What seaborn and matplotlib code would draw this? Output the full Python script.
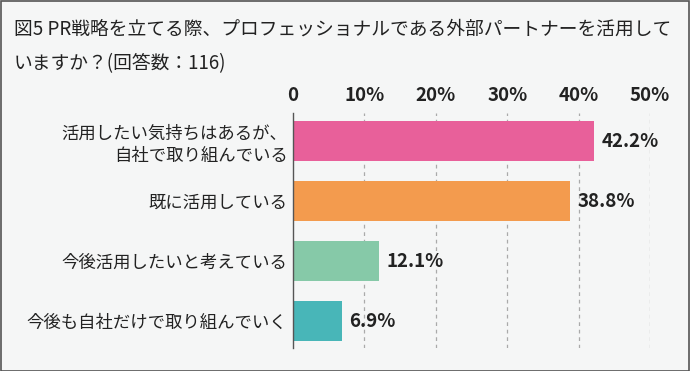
import numpy as np
import pandas as pd
import matplotlib
matplotlib.use('Agg')
import matplotlib.pyplot as plt
import seaborn as sns

sns.set_theme(style='white')
plt.rcParams['font.family'] = ['Noto Sans CJK JP', 'DejaVu Sans']

# ── data ─────────────────────────────────────────────────────────────────────
categories = ['活用したい気持ちはあるが、\n自社で取り組んでいる',
              '既に活用している',
              '今後活用したいと考えている',
              '今後も自社だけで取り組んでいく']
values = [42.2, 38.8, 12.1, 6.9]
bar_colors = ['#E8609A', '#F39B4E', '#86C9A8', '#48B6B8']
tick_vals = [0, 10, 20, 30, 40, 50]
tick_labels = ['0', '10%', '20%', '30%', '40%', '50%']
title = '図5 PR戦略を立てる際、プロフェッショナルである外部パートナーを活用して\nいますか？(回答数：116)'

BG = '#F5F6F6'
W, H = 690, 371

df = pd.DataFrame({'cat': categories, 'val': values})

fig = plt.figure(figsize=(W / 100, H / 100), dpi=100, facecolor=BG)
ax = fig.add_axes([293 / W, 1 - 348 / H, (650 - 293) / W, (348 - 113) / H])
ax.set_facecolor(BG)

sns.barplot(data=df, x='val', y='cat', hue='cat', palette=bar_colors,
            legend=False, width=0.667, ax=ax, orient='h', saturation=1,
            edgecolor='none')

ax.set_xlim(0, 50)
ax.set_ylim(3.45, -0.467)
ax.xaxis.tick_top()
ax.set_xticks(tick_vals)
ax.set_xticklabels(tick_labels, fontsize=13.5, fontweight='bold', color='#222222')
ax.tick_params(axis='x', length=0, pad=6)
ax.tick_params(axis='y', length=0, pad=4, labelsize=12.5, labelcolor='#222222')
for lbl in ax.get_yticklabels():
    lbl.set_horizontalalignment('right')
    lbl.set_linespacing(1.3)
ax.set_xlabel('')
ax.set_ylabel('')

for x in tick_vals[1:]:
    ax.axvline(x, color='#AAAAAA', lw=0.9, ls=(0, (3, 3)), zorder=0)

for s in ['top', 'right', 'bottom']:
    ax.spines[s].set_visible(False)
ax.spines['left'].set_color('#555555')
ax.spines['left'].set_linewidth(1.0)

for i, v in enumerate(values):
    ax.text(v + 1.0, i, f'{v:.1f}%', va='center', ha='left',
            fontsize=13.5, fontweight='bold', color='#222222')

fig.text(14 / W, 1 - 19 / H, title, ha='left', va='top', fontsize=13.5,
         color='#222222', linespacing=1.8)

# outer frame
fig.patches.append(plt.Rectangle((0.5 / W, 0.5 / H), 1 - 1.5 / W, 1 - 1.5 / H,
                                 transform=fig.transFigure, fill=False,
                                 edgecolor='#555555', lw=1.2))

fig.savefig('out.png', dpi=100, facecolor=BG)
